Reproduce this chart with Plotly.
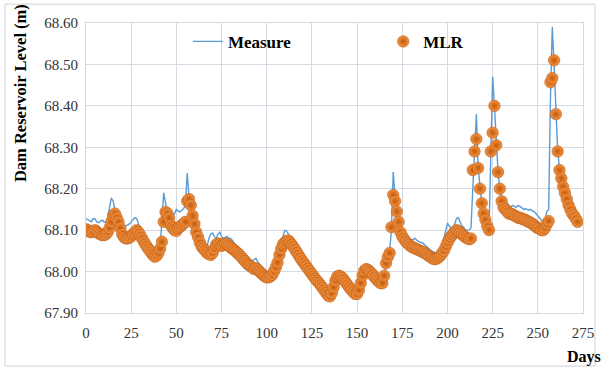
import plotly.graph_objects as go

measure = [
    68.128, 68.125, 68.122, 68.120, 68.128, 68.127, 68.120, 68.118, 68.122, 68.124,
    68.120, 68.118, 68.130, 68.150, 68.178, 68.170, 68.150, 68.140, 68.125, 68.116,
    68.112, 68.110, 68.110, 68.112, 68.115, 68.120, 68.125, 68.130, 68.128, 68.115,
    68.104, 68.098, 68.090, 68.084, 68.078, 68.072, 68.066, 68.060, 68.056, 68.052,
    68.050, 68.060, 68.120, 68.190, 68.165, 68.145, 68.140, 68.138, 68.136, 68.140,
    68.150, 68.146, 68.144, 68.148, 68.152, 68.160, 68.238, 68.180, 68.150, 68.130,
    68.120, 68.105, 68.090, 68.080, 68.070, 68.062, 68.056, 68.060, 68.080, 68.090,
    68.093, 68.085, 68.080, 68.090, 68.095, 68.085, 68.080, 68.082, 68.085, 68.080,
    68.080, 68.075, 68.068, 68.062, 68.056, 68.050, 68.046, 68.042, 68.038, 68.034,
    68.030, 68.028, 68.026, 68.030, 68.032, 68.024, 68.016, 68.008, 68.000, 67.994,
    67.990, 67.992, 67.996, 68.004, 68.014, 68.025, 68.040, 68.058, 68.075, 68.090,
    68.100, 68.098, 68.090, 68.082, 68.074, 68.067, 68.060, 68.053, 68.046, 68.040,
    68.034, 68.028, 68.022, 68.016, 68.010, 68.004, 67.998, 67.992, 67.986, 67.980,
    67.975, 67.969, 67.963, 67.957, 67.951, 67.948, 67.956, 67.970, 67.985, 67.995,
    67.996, 67.994, 67.990, 67.985, 67.979, 67.973, 67.967, 67.962, 67.957, 67.953,
    67.952, 67.962, 67.980, 67.998, 68.010, 68.012, 68.010, 68.006, 68.000, 67.995,
    67.990, 67.985, 67.982, 67.980, 67.978, 67.995, 68.015, 68.030, 68.050, 68.100,
    68.240, 68.180, 68.150, 68.125, 68.100, 68.092, 68.090, 68.085, 68.080, 68.078,
    68.075, 68.078, 68.080, 68.076, 68.072, 68.070, 68.070, 68.066, 68.062, 68.057,
    68.052, 68.050, 68.048, 68.045, 68.043, 68.045, 68.050, 68.060, 68.080, 68.100,
    68.117, 68.110, 68.105, 68.100, 68.115, 68.128, 68.130, 68.120, 68.110, 68.107,
    68.100, 68.100, 68.100, 68.105, 68.200, 68.300, 68.380, 68.250, 68.200, 68.165,
    68.140, 68.120, 68.105, 68.100, 68.280, 68.470, 68.400, 68.300, 68.240, 68.200,
    68.170, 68.165, 68.160, 68.165, 68.160, 68.155, 68.160, 68.158, 68.155, 68.160,
    68.158, 68.155, 68.150, 68.152, 68.150, 68.148, 68.150, 68.146, 68.145, 68.140,
    68.135, 68.128, 68.124, 68.122, 68.125, 68.145, 68.150, 68.420, 68.590, 68.500,
    68.380, 68.290, 68.250, 68.230, 68.210, 68.195, 68.180, 68.165, 68.155, 68.145,
    68.140, 68.135, 68.125,
]

mlr = [
    68.102, 68.100, 68.096, 68.095, 68.098, 68.100, 68.096, 68.092, 68.090, 68.088,
    68.088, 68.090, 68.095, 68.105, 68.120, 68.135, 68.140, 68.130, 68.120, 68.105,
    68.090, 68.083, 68.080, 68.080, 68.082, 68.085, 68.090, 68.095, 68.100, 68.095,
    68.088, 68.080, 68.072, 68.065, 68.058, 68.052, 68.046, 68.040, 68.036, 68.038,
    68.044, 68.055, 68.072, 68.120, 68.144, 68.140, 68.130, 68.112, 68.105, 68.100,
    68.098, 68.105, 68.108, 68.112, 68.116, 68.120, 68.170, 68.175, 68.160, 68.135,
    68.115, 68.095, 68.083, 68.070, 68.060, 68.055, 68.050, 68.045, 68.042, 68.040,
    68.045, 68.055, 68.065, 68.068, 68.066, 68.062, 68.065, 68.068, 68.066, 68.062,
    68.058, 68.055, 68.052, 68.048, 68.044, 68.040, 68.035, 68.030, 68.025, 68.020,
    68.016, 68.013, 68.010, 68.006, 68.008, 68.005, 68.000, 67.996, 67.992, 67.988,
    67.986, 67.986, 67.988, 67.992, 68.000, 68.010, 68.022, 68.040, 68.055, 68.066,
    68.070, 68.074, 68.075, 68.070, 68.064, 68.058, 68.051, 68.044, 68.037, 68.030,
    68.024, 68.018, 68.012, 68.006, 68.000, 67.994, 67.988, 67.982, 67.977, 67.972,
    67.966, 67.960, 67.954, 67.948, 67.942, 67.940, 67.948, 67.962, 67.978, 67.988,
    67.990, 67.988, 67.984, 67.978, 67.972, 67.966, 67.960, 67.955, 67.950, 67.946,
    67.946, 67.955, 67.972, 67.990, 68.002, 68.006, 68.004, 68.000, 67.996, 67.990,
    67.985, 67.980, 67.976, 67.972, 67.972, 67.990, 68.020, 68.035, 68.045, 68.107,
    68.185, 68.170, 68.145, 68.120, 68.095, 68.085, 68.078, 68.072, 68.068, 68.064,
    68.060, 68.058, 68.056, 68.054, 68.052, 68.050, 68.048, 68.046, 68.043, 68.040,
    68.037, 68.034, 68.031, 68.030, 68.031, 68.034, 68.038, 68.044, 68.050, 68.060,
    68.070, 68.078, 68.085, 68.090, 68.096, 68.100, 68.098, 68.094, 68.090, 68.086,
    68.083, 68.080, 68.078, 68.080, 68.245, 68.290, 68.320, 68.250, 68.200, 68.165,
    68.140, 68.125, 68.110, 68.100, 68.290, 68.335, 68.400, 68.305, 68.240, 68.200,
    68.170, 68.155, 68.150, 68.145, 68.140, 68.140, 68.138, 68.135, 68.133, 68.130,
    68.130, 68.128, 68.126, 68.125, 68.122, 68.120, 68.118, 68.115, 68.112, 68.108,
    68.105, 68.103, 68.100, 68.100, 68.105, 68.115, 68.122, 68.457, 68.467, 68.510,
    68.380, 68.290, 68.245, 68.225, 68.205, 68.190, 68.175, 68.160, 68.150, 68.140,
    68.135, 68.128, 68.120,
]

days = list(range(len(measure)))
x_ticks = [0, 25, 50, 75, 100, 125, 150, 175, 200, 225, 250, 275]
y_ticks = [67.90, 68.00, 68.10, 68.20, 68.30, 68.40, 68.50, 68.60]

SERIF = "Liberation Serif"
GRID = "#D5DAE2"
TICK = "#333333"

fig = go.Figure()
fig.add_trace(go.Scatter(
    x=days, y=measure, mode="lines", name="<b>Measure</b>",
    line=dict(color="#5B9BD5", width=1.4),
    legend="legend", showlegend=True,
))
fig.add_trace(go.Scatter(
    x=days, y=mlr, mode="markers", name="<b>MLR</b>",
    marker=dict(size=11.5, color="#F59440",
                gradient=dict(type="radial", color="#C05A0E"),
                line=dict(width=0.5, color="#B0500E")),
    legend="legend2", showlegend=True,
))

fig.update_layout(
    width=606, height=369,
    showlegend=True,
    margin=dict(l=86, r=17, t=23, b=56),
    paper_bgcolor="white", plot_bgcolor="white",
    font=dict(family=SERIF, color=TICK),
    legend=dict(x=0.205, y=0.935, xanchor="left", yanchor="middle",
                bgcolor="rgba(0,0,0,0)", font=dict(size=17, family=SERIF, color="black"),
                itemwidth=30),
    legend2=dict(x=0.598, y=0.935, xanchor="left", yanchor="middle",
                 bgcolor="rgba(0,0,0,0)", font=dict(size=17, family=SERIF, color="black"),
                 itemwidth=30),
    xaxis=dict(range=[0, 275], tickvals=x_ticks, showgrid=True, gridcolor=GRID,
               gridwidth=1, zeroline=False, showline=True, linecolor=GRID, mirror=True,
               tickfont=dict(size=15, family=SERIF, color=TICK), ticks="",
               ticklabelstandoff=6),
    yaxis=dict(range=[67.90, 68.60], tickvals=y_ticks, tickformat=".2f", showgrid=True,
               gridcolor=GRID, gridwidth=1, zeroline=False, showline=True, linecolor=GRID,
               mirror=True, tickfont=dict(size=15, family=SERIF, color=TICK), ticks="",
               ticklabelstandoff=4),
    annotations=[
        dict(text="<b>Dam Reservoir Level (m)</b>", xref="paper", yref="paper",
             x=-0.133, y=0.758, xanchor="center", yanchor="middle", textangle=-90,
             showarrow=False, font=dict(size=16.5, family=SERIF, color="black")),
        dict(text="<b>Days</b>", xref="paper", yref="paper",
             x=1.003, y=-0.152, xanchor="center", yanchor="middle", showarrow=False,
             font=dict(size=16, family=SERIF, color="black")),
    ],
    shapes=[
        dict(type="rect", xref="paper", yref="paper",
             x0=-0.163, x1=1.024, y0=-0.183, y1=1.065,
             line=dict(color="#D0D0D0", width=1), fillcolor="rgba(0,0,0,0)", layer="below"),
    ],
)

fig.write_html("out.html")
